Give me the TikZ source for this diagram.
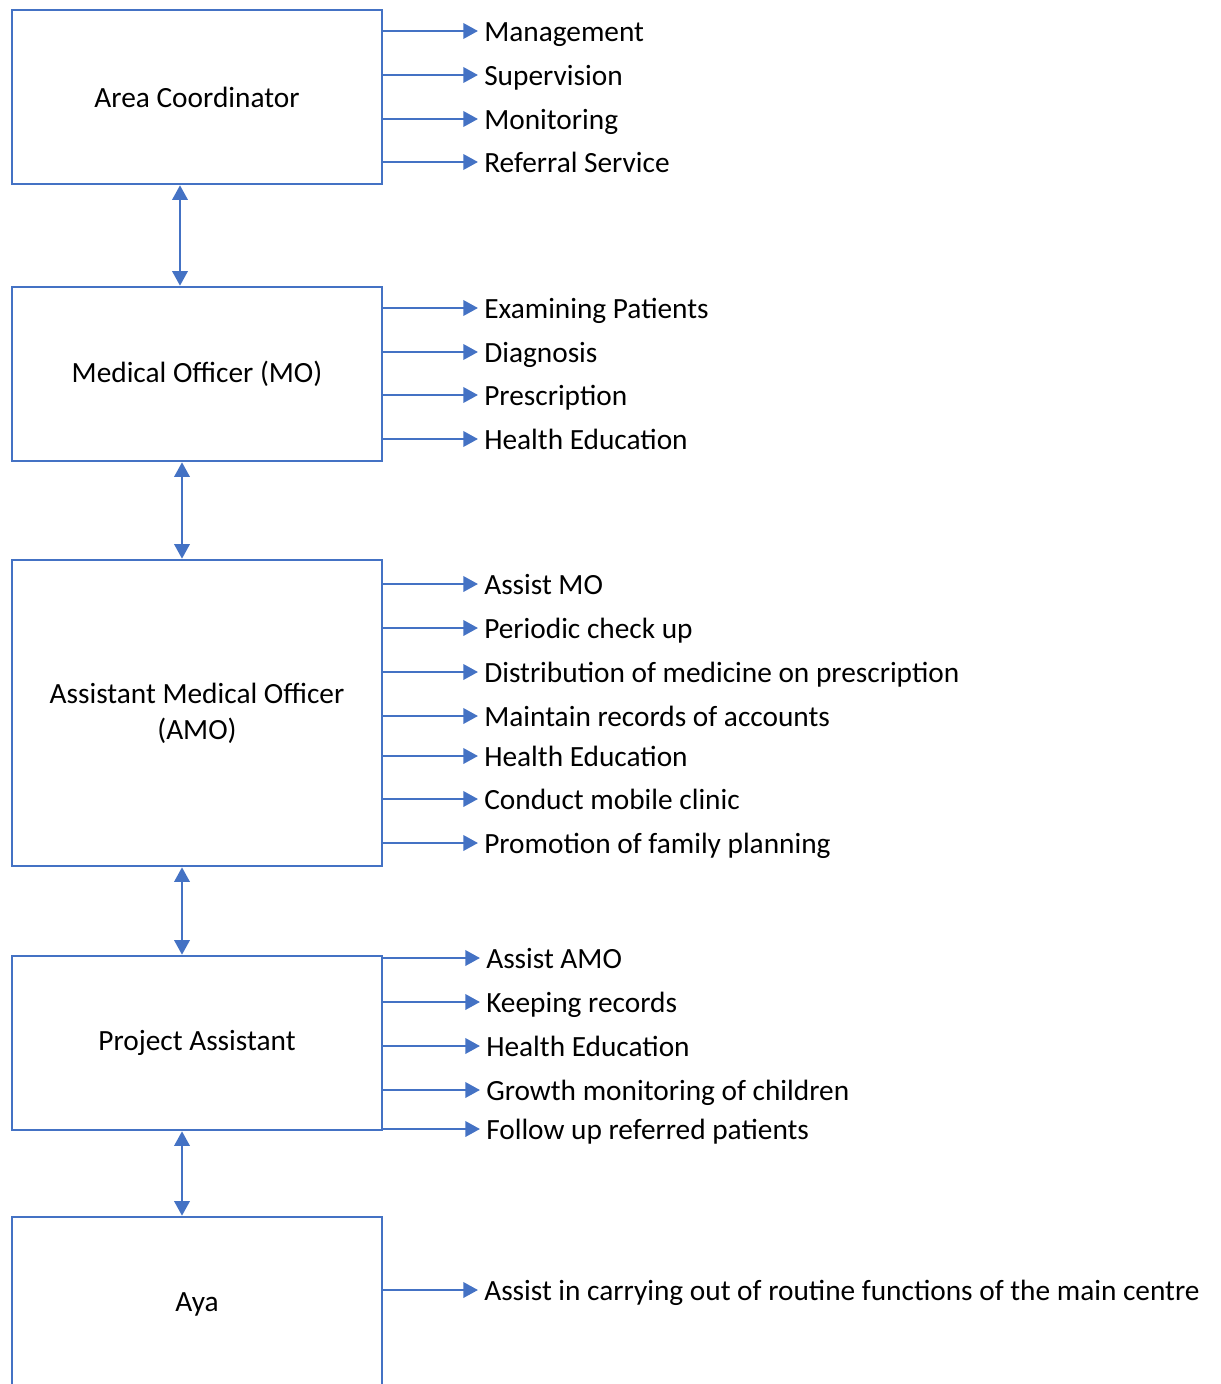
\documentclass[tikz,border=0pt]{standalone}
\usepackage{fontspec}
\setmainfont{Carlito}
\usepackage{tikz}
\usetikzlibrary{arrows.meta}
\definecolor{orgblue}{RGB}{68,114,196}

\begin{document}
\begin{tikzpicture}[x=0.75pt,y=-0.75pt,
    every node/.style={font=\fontsize{22}{27}\selectfont},
    post/.style={draw=orgblue,line width=1.9pt,minimum width=277.5pt,minimum height=130.5pt,inner sep=0pt,align=center},
    duty/.style={anchor=west,inner sep=4.5pt,text height=16pt,text depth=0pt},
    task/.style={-{Triangle[width=11.5pt,length=11pt]},orgblue,line width=1.9pt},
    link/.style={{Triangle[width=11.5pt,length=11pt]}-{Triangle[width=11.5pt,length=11pt]},orgblue,line width=1.9pt}]
    \useasboundingbox (0,0) rectangle (1220,1384);
    % posts
    \node[post] (ac) at (197,97) {Area Coordinator};
    \node[post] (mo) at (197,374) {Medical Officer (MO)};
    \node[post,minimum height=229.5pt] (amo) at (197,713) {Assistant Medical Officer\\(AMO)};
    \node[post] (pa) at (197,1043) {Project Assistant};
    \node[post] (aya) at (197,1304) {Aya};
    % links between posts
    \draw[link] ([xshift=-12.75pt]ac.south) -- ([xshift=-12.75pt]mo.north);
    \draw[link] ([xshift=-11.25pt]mo.south) -- ([xshift=-11.25pt]amo.north);
    \draw[link] ([xshift=-11.25pt]amo.south) -- ([xshift=-11.25pt]pa.north);
    \draw[link] ([xshift=-11.25pt]pa.south) -- ([xshift=-11.25pt]aya.north);
    % duties of the area coordinator
    \foreach \y/\t [count=\i] in {31/Management,75/Supervision,119/Monitoring,162/Referral Service} {
        \node[duty] (ac\i) at (478,\y) {\t};
        \draw[task] (ac.east |- ac\i.west) -- (ac\i.west);
    }
    % duties of the MO
    \foreach \y/\t [count=\i] in {308/Examining Patients,352/Diagnosis,395/Prescription,439/Health Education} {
        \node[duty] (mo\i) at (478,\y) {\t};
        \draw[task] (mo.east |- mo\i.west) -- (mo\i.west);
    }
    % duties of the AMO
    \foreach \y/\t [count=\i] in {584/Assist MO,628/Periodic check up,672/Distribution of medicine on prescription,716/Maintain records of accounts,756/Health Education,799/Conduct mobile clinic,843/Promotion of family planning} {
        \node[duty] (amo\i) at (478,\y) {\t};
        \draw[task] (amo.east |- amo\i.west) -- (amo\i.west);
    }
    % duties of the project assistant
    \foreach \y/\t [count=\i] in {958/Assist AMO,1002/Keeping records,1046/Health Education,1090/Growth monitoring of children,1129/Follow up referred patients} {
        \node[duty] (pa\i) at (480,\y) {\t};
        \draw[task] (pa.east |- pa\i.west) -- (pa\i.west);
    }
    % duty of the aya
    \node[duty] (aya1) at (478,1290) {Assist in carrying out of routine functions of the main centre};
    \draw[task] (aya.east |- aya1.west) -- (aya1.west);
\end{tikzpicture}
\end{document}
